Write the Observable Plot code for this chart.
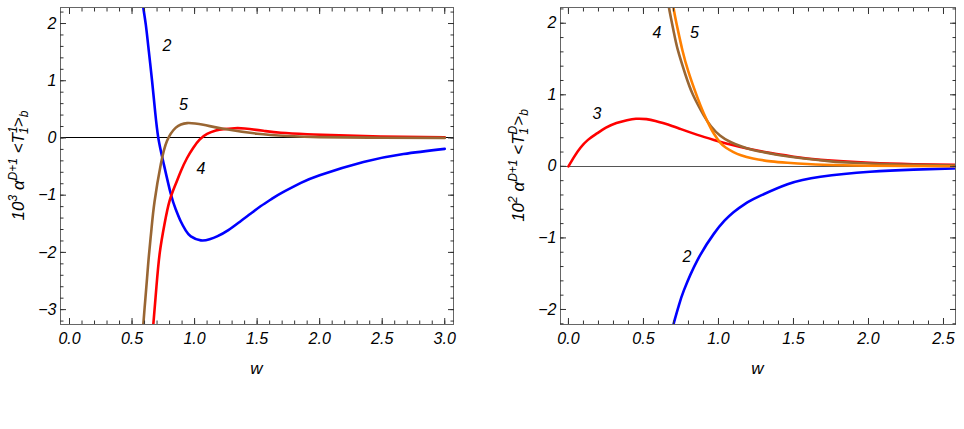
<!DOCTYPE html>
<html><head><meta charset="utf-8">
<script src="https://cdn.jsdelivr.net/npm/d3@7"></script>
<script src="https://cdn.jsdelivr.net/npm/@observablehq/plot@0.6"></script>
<style>
body{margin:0;background:#fff;}
#wrap{display:flex;align-items:flex-start;width:964px;height:429px;overflow:hidden;}
#wrap svg{display:block;flex:none;}
</style></head><body><div id="wrap"></div>
<script>
// ---------- Left panel data: 10^3 α^(D+1) <T_1^1>_b vs w ----------
const L2_w = [0.575, 0.59, 0.61, 0.635, 0.66, 0.685, 0.71, 0.75, 0.81, 0.85, 0.89, 0.93, 0.97, 1.05, 1.12, 1.18, 1.27, 1.37, 1.45, 1.53, 1.62, 1.7, 1.85, 2.0, 2.35, 2.67, 3.0];
const L2_v = [2.6, 2.28, 1.98, 1.5, 1.0, 0.45, 0.0, -0.42, -0.98, -1.25, -1.46, -1.62, -1.72, -1.79, -1.77, -1.72, -1.61, -1.45, -1.32, -1.19, -1.06, -0.955, -0.785, -0.65, -0.42, -0.28, -0.19];
const L4_w = [0.66, 0.67, 0.695, 0.722, 0.76, 0.80, 0.85, 0.89, 0.94, 0.99, 1.04, 1.10, 1.17, 1.23, 1.32, 1.4, 1.55, 1.69, 1.9, 2.09, 2.49, 3.0];
const L4_v = [-3.5, -3.26, -2.6, -2.0, -1.5, -1.1, -0.8, -0.58, -0.35, -0.17, -0.03, 0.07, 0.13, 0.155, 0.17, 0.165, 0.125, 0.09, 0.065, 0.05, 0.025, 0.01];
const L5_w = [0.58, 0.59, 0.605, 0.62, 0.635, 0.655, 0.68, 0.73, 0.78, 0.85, 0.94, 1.07, 1.23, 1.5, 1.75, 2.0, 2.5, 3.0];
const L5_v = [-3.6, -3.26, -2.85, -2.45, -2.05, -1.6, -1.11, -0.46, -0.05, 0.18, 0.26, 0.23, 0.16, 0.075, 0.035, 0.015, 0.004, 0.001];
const L_labels = ["2", "5", "4"];
const L_labW = [0.78, 0.91, 1.05];
const L_labV = [1.61, 0.58, -0.54];
const L_xTicks = [0, 0.5, 1, 1.5, 2, 2.5, 3];
const L_yTicks = [-3, -2, -1, 0, 1, 2];

// ---------- Right panel data: 10^2 α^(D+1) <T_1^D>_b vs w ----------
const R2_w = [0.68, 0.70, 0.735, 0.77, 0.86, 0.97, 1.04, 1.10, 1.18, 1.26, 1.46, 1.68, 2.01, 2.3, 2.57];
const R2_v = [-2.4, -2.21, -1.95, -1.73, -1.31, -0.94, -0.76, -0.64, -0.52, -0.43, -0.25, -0.145, -0.075, -0.045, -0.03];
const R3_w = [0, 0.04, 0.08, 0.13, 0.19, 0.25, 0.32, 0.39, 0.45, 0.52, 0.58, 0.63, 0.69, 0.75, 0.86, 0.97, 1.08, 1.2, 1.35, 1.5, 1.68, 2.01, 2.3, 2.58];
const R3_v = [0, 0.14, 0.26, 0.37, 0.46, 0.54, 0.605, 0.645, 0.665, 0.66, 0.635, 0.605, 0.565, 0.52, 0.44, 0.37, 0.305, 0.245, 0.185, 0.135, 0.09, 0.048, 0.03, 0.02];
const R4_w = [0.66, 0.67, 0.70, 0.73, 0.78, 0.83, 0.90, 0.95, 1.01, 1.08, 1.15, 1.23, 1.4, 1.57, 1.75, 1.9, 2.2, 2.58];
const R4_v = [2.4, 2.22, 1.9, 1.62, 1.28, 1.0, 0.72, 0.56, 0.43, 0.34, 0.28, 0.23, 0.16, 0.11, 0.07, 0.05, 0.027, 0.012];
const R5_w = [0.695, 0.70, 0.73, 0.76, 0.80, 0.86, 0.90, 0.94, 0.97, 1.01, 1.05, 1.10, 1.15, 1.23, 1.35, 1.46, 1.7, 2.0, 2.58];
const R5_v = [2.4, 2.22, 1.9, 1.62, 1.32, 0.96, 0.75, 0.57, 0.455, 0.335, 0.26, 0.2, 0.155, 0.11, 0.07, 0.05, 0.022, 0.009, 0.002];
const R_labels = ["4", "5", "3", "2"];
const R_labW = [0.59, 0.84, 0.19, 0.79];
const R_labV = [1.86, 1.86, 0.74, -1.27];
const R_xTicks = [0, 0.5, 1, 1.5, 2, 2.5];
const R_yTicks = [-2, -1, 0, 1, 2];

const BLUE = "#0000ff", RED = "#ff0000", BROWN = "#996633", ORANGE = "#ff8000";
const FONT = "'Liberation Sans', Arial, sans-serif";

const table = (W, V) => W.map((w, i) => ({w, v: V[i]}));
const labTable = (T, W, V) => T.map((t, i) => ({t, w: W[i], v: V[i]}));

function frameAxes(xMaj, xMin, yMaj, yMin) {
  const tk = {stroke: "#333", fill: "none", label: null};
  return [
    Plot.axisX(xMaj, {...tk, anchor: "bottom", tickSize: -6}),
    Plot.axisX(xMin, {...tk, anchor: "bottom", tickSize: -3.5}),
    Plot.axisX(xMaj, {...tk, anchor: "top", tickSize: -6}),
    Plot.axisX(xMin, {...tk, anchor: "top", tickSize: -3.5}),
    Plot.axisY(yMaj, {...tk, anchor: "left", tickSize: -6}),
    Plot.axisY(yMin, {...tk, anchor: "left", tickSize: -3.5}),
    Plot.axisY(yMaj, {...tk, anchor: "right", tickSize: -6}),
    Plot.axisY(yMin, {...tk, anchor: "right", tickSize: -3.5}),
    Plot.axisX(xMaj, {anchor: "bottom", tickSize: 0, tickPadding: 8, tickFormat: d3.format(".1f"), label: null, fill: "#000", fontSize: 16, fontStyle: "italic"}),
    Plot.axisY(yMaj, {anchor: "left", tickSize: 0, tickPadding: 4, tickFormat: d3.format("d"), label: null, fill: "#000", fontSize: 16, fontStyle: "italic"})
  ];
}

function panel({marginLeft, marginRight, xDomain, yDomain, xTicks, yTicks, series, labels, zeroColor, ylab}) {
  const xMin = d3.range(Math.ceil(xDomain[0] * 10), Math.floor(xDomain[1] * 10) + 1).map(d => d / 10);
  const yMin = d3.range(Math.ceil(yDomain[0] * 5), Math.floor(yDomain[1] * 5) + 1).map(d => d / 5);
  const svg = Plot.plot({
    width: 482, height: 400,
    marginLeft, marginRight, marginTop: 7, marginBottom: 76,
    x: {domain: xDomain},
    y: {domain: yDomain},
    style: {fontFamily: FONT, fontSize: "16px", background: "#fff", width: "482px", height: "400px", maxWidth: "none"},
    marks: [
      Plot.ruleY([0], {stroke: zeroColor, strokeWidth: 1, shapeRendering: "crispEdges"}),
      ...series.map(s => Plot.line(s.data, {x: "w", y: "v", stroke: s.color, strokeWidth: 2.6, curve: "natural", clip: true})),
      Plot.text(labels, {x: "w", y: "v", text: "t", fontSize: 16, fontStyle: "italic", fill: "#000"}),
      Plot.frame({stroke: "#666"}),
      ...frameAxes(xTicks, xMin, yTicks, yMin)
    ]
  });
  const sx = svg.scale("x"), sy = svg.scale("y");
  const cx = (sx.apply(xDomain[0]) + sx.apply(xDomain[1])) / 2;
  const cy = (sy.apply(yDomain[0]) + sy.apply(yDomain[1])) / 2;
  const s = d3.select(svg);
  s.append("text").attr("x", cx).attr("y", 374).attr("text-anchor", "middle")
    .attr("font-family", FONT).attr("font-size", 17).attr("font-style", "italic").text("w");
  const t = s.append("text")
    .attr("transform", `translate(${marginLeft - 36},${cy}) rotate(-90)`)
    .attr("text-anchor", "middle").attr("font-family", FONT).attr("font-size", 17).attr("font-style", "italic");
  t.append("tspan").text("10");
  t.append("tspan").attr("dy", -7).attr("font-size", 12).text(ylab.p);
  t.append("tspan").attr("dy", 7).text(" α");
  t.append("tspan").attr("dy", -7).attr("font-size", 12).text("D+1");
  t.append("tspan").attr("dy", 7).text(" <T");
  t.append("tspan").attr("dy", -7).attr("font-size", 12).text(ylab.sup);
  t.append("tspan").attr("dx", ylab.sup === "D" ? -8.7 : -6.7).attr("dy", 11).attr("font-size", 12).text("1");
  t.append("tspan").attr("dx", ylab.sup === "D" ? 2 : 0).attr("dy", -4).text(">");
  t.append("tspan").attr("dy", 4).attr("font-size", 12).text("b");
  return svg;
}

const wrap = document.getElementById("wrap");
wrap.append(panel({
  marginLeft: 60, marginRight: 29,
  xDomain: [-0.072, 3.07], yDomain: [-3.26, 2.28],
  xTicks: L_xTicks, yTicks: L_yTicks,
  series: [
    {data: table(L2_w, L2_v), color: BLUE},
    {data: table(L4_w, L4_v), color: RED},
    {data: table(L5_w, L5_v), color: BROWN}
  ],
  labels: labTable(L_labels, L_labW, L_labV),
  zeroColor: "#000",
  ylab: {p: "3", sup: "1"}
}));
wrap.append(panel({
  marginLeft: 78, marginRight: 9,
  xDomain: [-0.053, 2.58], yDomain: [-2.21, 2.22],
  xTicks: R_xTicks, yTicks: R_yTicks,
  series: [
    {data: table(R2_w, R2_v), color: BLUE},
    {data: table(R3_w, R3_v), color: RED},
    {data: table(R4_w, R4_v), color: BROWN},
    {data: table(R5_w, R5_v), color: ORANGE}
  ],
  labels: labTable(R_labels, R_labW, R_labV),
  zeroColor: "#555",
  ylab: {p: "2", sup: "D"}
}));
</script>
</body></html>
